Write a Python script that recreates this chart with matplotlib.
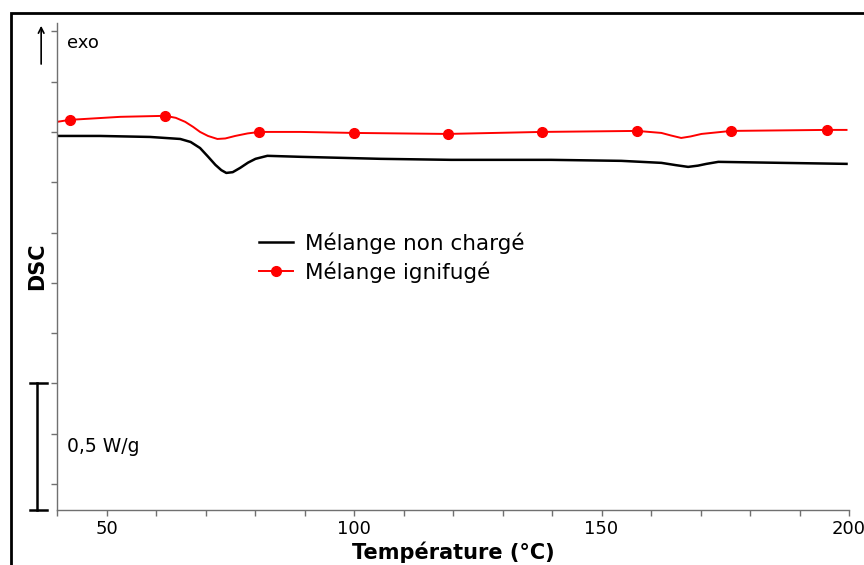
import matplotlib
matplotlib.use("Agg")
import matplotlib.pyplot as plt
from matplotlib.patches import Rectangle

# ---------------------------------------------------------------------------
# Data (temperature in °C, heat flow in W/g, offset)
# ---------------------------------------------------------------------------
T_noncharge = [40.0, 48.7, 58.8, 64.9, 67.0, 68.9, 70.5, 72.0, 73.2, 74.2, 75.5,
               77.0, 78.6, 80.1, 82.5, 89.2, 105.4, 119.6, 139.8, 154.0, 162.1,
               165.0, 167.5, 169.5, 171.2, 173.6, 186.4, 199.5]
dsc_noncharge = [-0.016, -0.016, -0.020, -0.028, -0.040, -0.064, -0.098, -0.131,
                 -0.152, -0.163, -0.160, -0.143, -0.122, -0.107, -0.095, -0.099,
                 -0.107, -0.111, -0.111, -0.115, -0.123, -0.132, -0.139, -0.134,
                 -0.127, -0.119, -0.123, -0.127]

T_ignifuge = [40.0, 42.6, 52.8, 61.9, 64.0, 65.9, 67.5, 68.9, 70.5, 72.4, 74.0,
              76.0, 78.5, 80.9, 89.2, 99.9, 118.9, 138.0, 157.2, 162.1, 164.0,
              166.1, 168.0, 170.2, 176.2, 195.5, 199.5]
dsc_ignifuge = [0.040, 0.048, 0.060, 0.064, 0.056, 0.040, 0.020, 0.000, -0.016,
                -0.028, -0.026, -0.016, -0.006, 0.000, 0.000, -0.004, -0.008,
                0.000, 0.004, -0.004, -0.014, -0.024, -0.018, -0.008, 0.004,
                0.008, 0.008]
# indices of the plotted symbols on the red curve
markers_ignifuge = [1, 3, 13, 15, 16, 17, 18, 24, 25]

x_ticks = [50, 100, 150, 200]
y_ticks = [0.4, 0.2, 0.0, -0.2, -0.4, -0.6, -0.8, -1.0, -1.2, -1.4]

# ---------------------------------------------------------------------------
# Figure
# ---------------------------------------------------------------------------
fig = plt.figure(figsize=(8.64, 5.65), dpi=100)
ax = fig.add_axes([57 / 864, 55 / 565, 792 / 864, 487 / 565])

# outer frame of the original picture
fig.patches.append(Rectangle((11 / 864, -0.05), 1.0, (552 / 565) + 0.05,
                             transform=fig.transFigure, fill=False,
                             edgecolor="black", linewidth=2))

ax.plot(T_noncharge, dsc_noncharge, color="black", lw=1.8,
        label="Mélange non chargé")
ax.plot(T_ignifuge, dsc_ignifuge, color="#ff0000", lw=1.4, marker="o",
        ms=7, markevery=markers_ignifuge, label="Mélange ignifugé")

ax.set_xlim(40, 200)
ax.set_ylim(-1.503, 0.433)
ax.set_xticks(x_ticks)
ax.set_xticks(range(40, 201, 10), minor=True)
ax.set_yticks(y_ticks)
ax.set_yticklabels([])

for side in ("top", "right"):
    ax.spines[side].set_visible(False)
for side in ("left", "bottom"):
    ax.spines[side].set_color("#707070")
    ax.spines[side].set_linewidth(1.0)
ax.tick_params(axis="both", which="both", direction="out", length=4,
               color="#707070", width=1.0)
ax.tick_params(axis="x", labelsize=13, pad=3)

ax.set_xlabel("Température (°C)", fontsize=15, fontweight="bold", labelpad=3)
ax.set_ylabel("DSC", fontsize=15, fontweight="bold", labelpad=0)
ax.yaxis.set_label_coords(-0.013, 0.5)

ax.legend(loc="upper left", bbox_to_anchor=(0.244, 0.588), frameon=False,
          fontsize=15.5, handlelength=1.6, handletextpad=0.55,
          labelspacing=0.35, borderaxespad=0)

# exo arrow and label
ax.annotate("", xy=(-0.02, 1.0), xytext=(-0.02, 0.91),
            xycoords="axes fraction", textcoords="axes fraction",
            arrowprops=dict(arrowstyle="->", color="black", lw=1.2),
            annotation_clip=False)
ax.text(0.012, 0.958, "exo", transform=ax.transAxes, fontsize=13,
        va="center", ha="left")

# 0,5 W/g scale bar
tr = ax.get_yaxis_transform()
ax.plot([-0.0253, -0.0253], [-1.0, -1.503], color="black", lw=1.8,
        transform=tr, clip_on=False)
ax.plot([-0.034, -0.0126], [-1.0, -1.0], color="black", lw=1.8,
        transform=tr, clip_on=False)
ax.plot([-0.034, -0.0126], [-1.503, -1.503], color="black", lw=1.8,
        transform=tr, clip_on=False)
ax.text(0.012, -1.25, "0,5 W/g", transform=tr, fontsize=13.5,
        va="center", ha="left")

fig.savefig("out.png", dpi=100)
